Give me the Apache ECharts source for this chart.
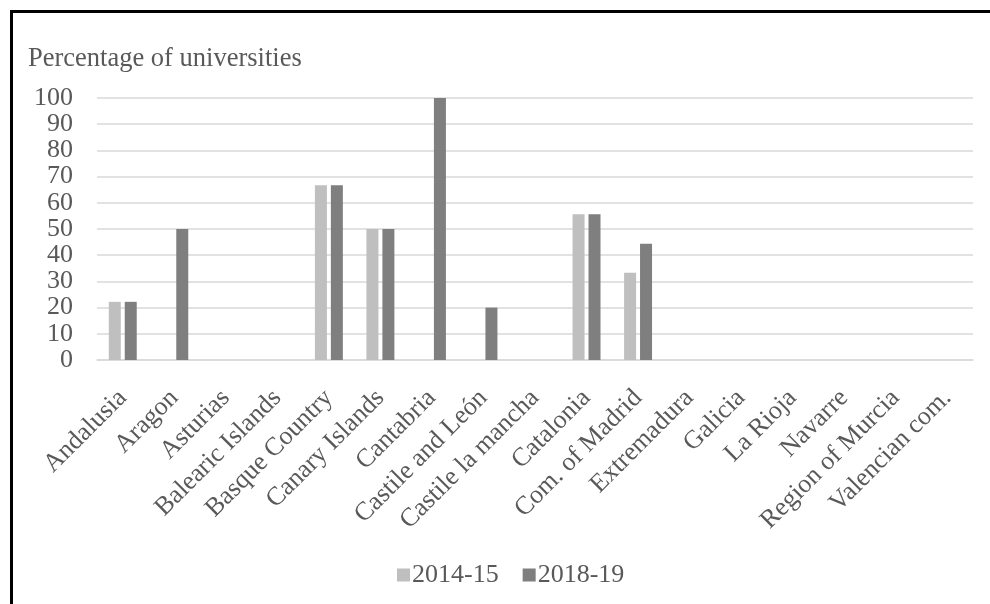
<!DOCTYPE html>
<html>
<head>
<meta charset="utf-8">
<script src="https://cdn.jsdelivr.net/npm/echarts@6/dist/echarts.min.js"></script>
<style>
html,body{margin:0;padding:0;background:#fff;}
#chart{width:990px;height:604px;}
</style>
</head>
<body>
<div id="chart"></div>
<script>
const categories = ["Andalusia","Aragon","Asturias","Balearic Islands","Basque Country","Canary Islands","Cantabria","Castile and León","Castile la mancha","Catalonia","Com. of Madrid","Extremadura","Galicia","La Rioja","Navarre","Region of Murcia","Valencian com."];
const series2014 = [22.2,0,0,0,66.7,50,0,0,0,55.6,33.3,0,0,0,0,0,0];
const series2018 = [22.2,50,0,0,66.7,50,100,20,0,55.6,44.4,0,0,0,0,0,0];
const seriesNames = ["2014-15","2018-19"];
const yTitle = "Percentage of universities";

const FONT = "Liberation Serif";
const TXT = "#595959";
const chart = echarts.init(document.getElementById('chart'), null, {renderer:'canvas'});
chart.setOption({
  animation:false,
  backgroundColor:'#fff',
  graphic:[
    {type:'rect', shape:{x:11.5,y:11.5,width:1200,height:1000}, style:{fill:null,stroke:'#000',lineWidth:3}, silent:true},
    {type:'text', left:28, top:46, style:{text:yTitle, font:'26.5px "'+FONT+'"', fill:TXT}}
  ],
  legend:{
    data:seriesNames, left:392, top:557, itemWidth:13, itemHeight:13, itemGap:24,
    icon:'rect',
    textStyle:{fontFamily:FONT, fontSize:26, color:TXT, padding:[0,0,0,-3]}
  },
  grid:{left:97, right:17, top:98, bottom:244, containLabel:false},
  xAxis:{
    type:'category', data:categories,
    axisLine:{lineStyle:{color:'#d9d9d9', width:1.5}},
    axisTick:{show:false},
    axisLabel:{rotate:45, interval:0, margin:34, fontFamily:FONT, fontSize:26, color:TXT}
  },
  yAxis:{
    type:'value', min:0, max:100, interval:10,
    axisLine:{show:false}, axisTick:{show:false},
    splitLine:{lineStyle:{color:'#d9d9d9', width:1.5}},
    axisLabel:{margin:24, fontFamily:FONT, fontSize:26, color:TXT}
  },
  series:[
    {name:seriesNames[0], type:'bar', data:series2014, barWidth:12, barGap:'33%', itemStyle:{color:'#bfbfbf'}},
    {name:seriesNames[1], type:'bar', data:series2018, barWidth:12, barGap:'33%', itemStyle:{color:'#7f7f7f'}}
  ]
});
</script>
</body>
</html>
